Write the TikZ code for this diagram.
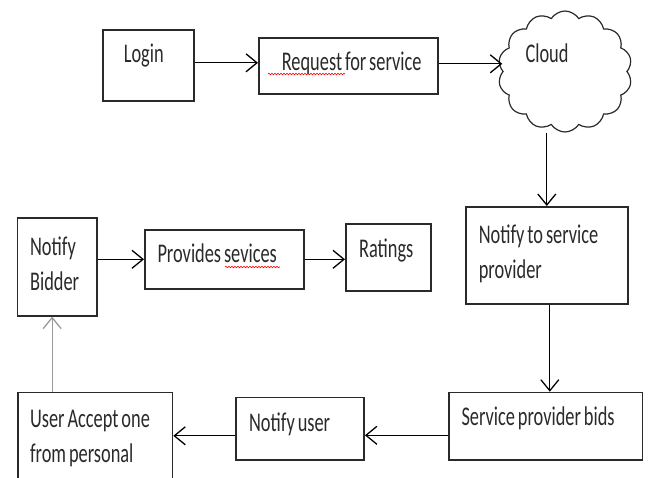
\documentclass[tikz,border=0pt]{standalone}
\usepackage{fontspec}
\setmainfont{Carlito}[FakeStretch=0.68, WordSpace=0.7]
\usepackage{tikz}
\usetikzlibrary{positioning, shapes.symbols, arrows.meta, decorations.pathmorphing}
\usetikzlibrary{calc}
\newcommand{\boxfont}{\fontsize{27}{35}\selectfont}
\definecolor{inkgray}{HTML}{2A2A2A}
\definecolor{upgray}{HTML}{9A9A9A}
\tikzstyle{box} = [rectangle, draw=inkgray, line width=1.6pt, anchor=north west, align=flush left, inner ysep=0pt, text=inkgray, font=\boxfont]
\tikzstyle{arrow} = [line width=1.3pt, -{Straight Barb[length=11pt,width=18pt]}]
\tikzstyle{squiggle} = [red, line width=0.6pt, decorate, decoration={snake, segment length=3pt, amplitude=0.8pt}]

\begin{document}
\begin{tikzpicture}[x=1pt, y=-1pt]
		\useasboundingbox (0,0) rectangle (648,477);
		\node (login) [box, inner xsep=21pt, text width=49pt, text height=33pt, text depth=38pt] at (102,29) {Login};
		\node (request) [box, inner xsep=23pt, text width=133pt, text height=33pt, text depth=23pt] at (258,37) {\mbox{Request for service}};
		\node (cloud) [cloud, draw=inkgray, line width=1.2pt, cloud puffs=14, cloud puff arc=115, aspect=1.1, cloud ignores aspect, minimum width=134pt, minimum height=121pt] at (565,71.5) {};
		\node (cloudtxt) [text=inkgray, font=\boxfont, anchor=base] at (547,62) {Cloud};
		
		\node (ntsp) [box, inner xsep=13pt, text width=136pt, text height=36.7pt, text depth=60.3pt] at (465,206) {Notify to service\\provider};
		\node (bids) [box, inner xsep=12.4pt, text width=168.6pt, text height=33.3pt, text depth=34.3pt] at (448.3,391.7) {Service provider bids};
		\node (nuser) [box, inner xsep=13.3pt, text width=101.7pt, text height=34pt, text depth=28.6pt] at (235,396.7) {Notify user};
		\node (accept) [box, inner xsep=12pt, text width=130.4pt, text height=35pt, text depth=63pt] at (17.3,391.7) {\mbox{User Accept one}\\from personal};
		\node (bidder) [box, inner xsep=12.6pt, text width=54.1pt, text height=37.7pt, text depth=60pt] at (16.7,217.3) {Notify\\Bidder};
		\node (provides) [box, inner xsep=12.7pt, text width=133.6pt, text height=32.7pt, text depth=26.3pt] at (144,229) {Provides sevices};
		\node (ratings) [box, inner xsep=13.3pt, text width=58.4pt, text height=33.4pt, text depth=33.3pt] at (345,223.3) {Ratings};
		
		%拼写标记
		\draw [squiggle] ([shift={(10pt,-37pt)}]request.north west) -- ++(77,0);
		\draw [squiggle] ([shift={(81pt,-38pt)}]provides.north west) -- ++(55,0);
		
		%连线
		\coordinate (a1) at ([yshift=2.5pt]login.east);
		\coordinate (a2) at ([yshift=2pt]request.east);
		\coordinate (a4) at ([xshift=3pt]ntsp.south);
		\coordinate (a5) at ([yshift=-9pt]bids.west);
		\coordinate (a6) at ([yshift=-7pt]nuser.west);
		\coordinate (a7) at ([xshift=-5pt]bidder.south);
		\draw [arrow] (a1) -- (a1 -| request.west);
		\draw [arrow] (a2) -- (a2 -| cloud.west);
		\draw [arrow] (ntsp.north |- cloud.south) -- (ntsp.north);
		\draw [arrow] (a4) -- (a4 |- bids.north);
		\draw [arrow] (a5) -- (a5 -| nuser.east);
		\draw [arrow] (a6) -- (a6 -| accept.east);
		\draw [arrow, draw=upgray] (a7 |- accept.north) -- (a7);
		\draw [arrow] (bidder.east |- provides.west) -- (provides.west);
		\draw [arrow] (provides.east) -- (provides.east -| ratings.west);
		
	\end{tikzpicture}
\end{document}
